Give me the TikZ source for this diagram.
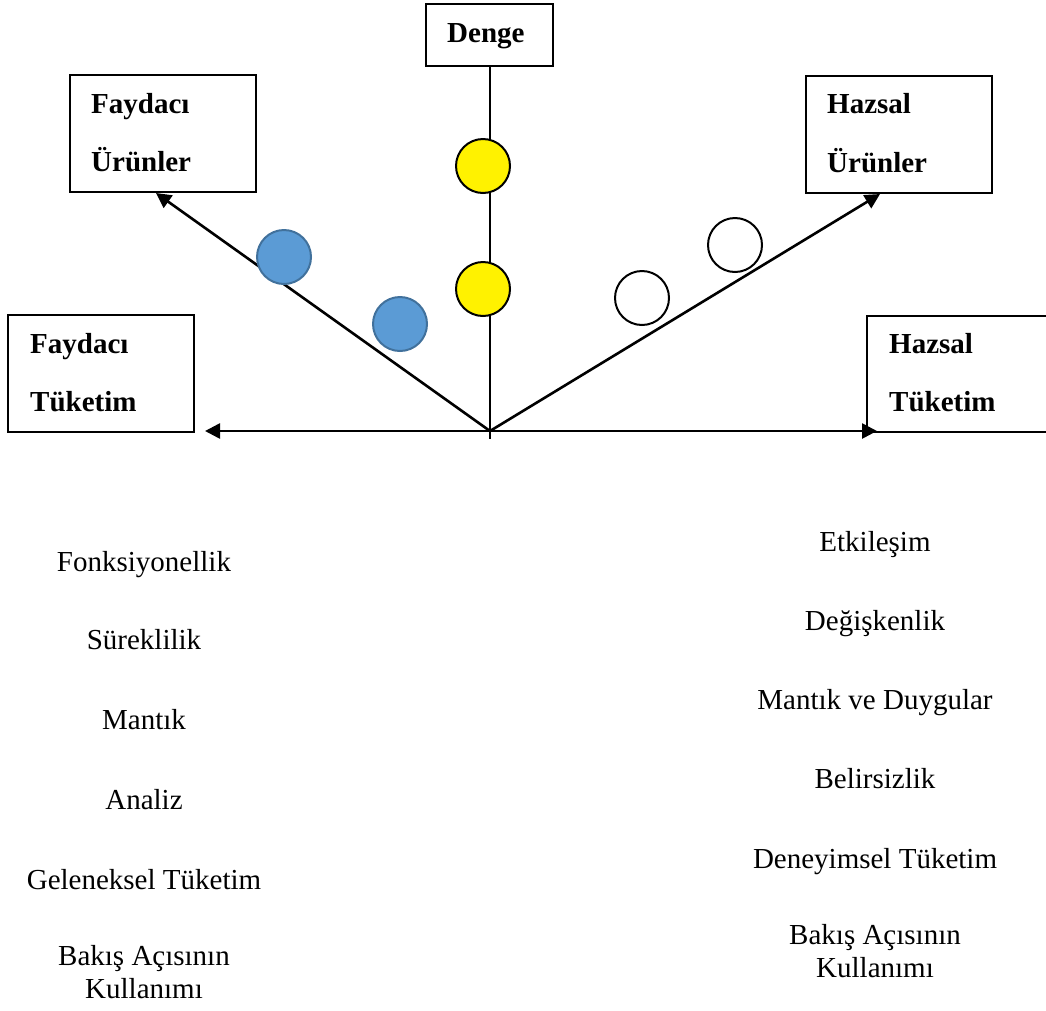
\documentclass[tikz,border=0pt]{standalone}
\usepackage{fontspec}
\setmainfont{Liberation Serif}
\usetikzlibrary{arrows.meta}
\begin{document}
\begin{tikzpicture}[x=1pt,y=-1pt,
  box/.style={draw, line width=2pt, rectangle, inner sep=0pt},
  lbl/.style={font=\fontsize{29}{33}\selectfont\bfseries, anchor=base west, inner sep=0pt},
  item/.style={font=\fontsize{29}{33}\selectfont, align=center, anchor=base, inner sep=0pt},
  axis/.style={line width=2.6pt, -{Triangle[length=15pt,width=15pt]}},
  dot/.style={circle, minimum size=54pt, inner sep=0pt, line width=2pt},
]
\useasboundingbox (0,0) rectangle (1046,1010);

% boxes
\node[box, minimum width=127pt, minimum height=62pt]  (denge) at (489.5,35) {};
\node[box, minimum width=186pt, minimum height=117pt] (fu)    at (163,133.5) {};
\node[box, minimum width=186pt, minimum height=117pt] (ft)    at (101,373.5) {};
\node[box, minimum width=186pt, minimum height=117pt] (hu)    at (899,134.5) {};
\node[box, minimum width=183pt, minimum height=116pt] (ht)    at (958.5,374) {};

% box labels
\node[lbl] (tdenge) at (447,42) {Denge};
\node[lbl] (tfu1) at (91,113) {Faydacı};
\node[lbl] (tfu2) at (91,171) {Ürünler};
\node[lbl] (tft1) at (30,353) {Faydacı};
\node[lbl] (tft2) at (30,411) {Tüketim};
\node[lbl] (thu1) at (827,113) {Hazsal};
\node[lbl] (thu2) at (827,172) {Ürünler};
\node[lbl] (tht1) at (889,353) {Hazsal};
\node[lbl] (tht2) at (889,411) {Tüketim};

% axes
\coordinate (O)     at (490,431);
\coordinate (vbot)  at (490,439);
\coordinate (ltip)  at (205,431);
\coordinate (rtip)  at (877,431);
\coordinate (lutip) at (156,193);
\coordinate (rutip) at (880,194);

\draw[line width=2pt] (denge.south -| O) -- (vbot);
\draw[axis] (O) -- (ltip);
\draw[axis] (O) -- (rtip);
\draw[axis] (O) -- (lutip);
\draw[axis] (O) -- (rutip);

% circles
\node[dot, draw=black, fill=yellow] (y1) at (483,166) {};
\node[dot, draw=black, fill=yellow] (y2) at (483,289) {};
\node[dot, draw={rgb,255:red,65;green,113;blue,156}, fill={rgb,255:red,91;green,155;blue,213}] (b1) at (284,257) {};
\node[dot, draw={rgb,255:red,65;green,113;blue,156}, fill={rgb,255:red,91;green,155;blue,213}] (b2) at (400,324) {};
\node[dot, draw=black, fill=white] (w1) at (642,298) {};
\node[dot, draw=black, fill=white] (w2) at (735,245) {};

% left list
\node[item] (l1) at (144,571) {Fonksiyonellik};
\node[item] (l2) at (144,649) {Süreklilik};
\node[item] (l3) at (144,729) {Mantık};
\node[item] (l4) at (144,809) {Analiz};
\node[item] (l5) at (144,889) {Geleneksel Tüketim};
\node[item] (l6) at (144,998) {Bakış Açısının\\Kullanımı};

% right list
\node[item] (r1) at (875,551) {Etkileşim};
\node[item] (r2) at (875,630) {Değişkenlik};
\node[item] (r3) at (875,709) {Mantık ve Duygular};
\node[item] (r4) at (875,788) {Belirsizlik};
\node[item] (r5) at (875,868) {Deneyimsel Tüketim};
\node[item] (r6) at (875,977) {Bakış Açısının\\Kullanımı};
\end{tikzpicture}
\end{document}
